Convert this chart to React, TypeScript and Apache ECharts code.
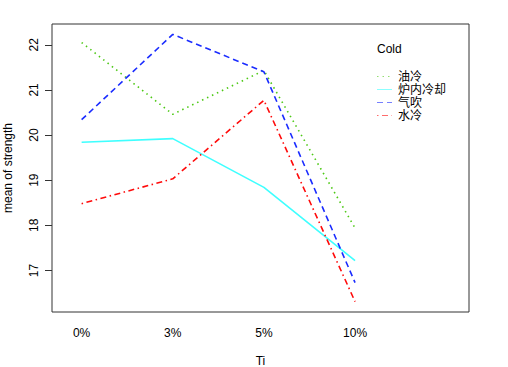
import React, { useEffect, useRef } from "react";
import * as echarts from "echarts";

const categories = ["0%", "3%", "5%", "10%"];
const seriesNames = ["油冷", "炉内冷却", "气吹", "水冷"];
const oilCooling = [22.05, 20.46, 21.43, 17.94];
const furnaceCooling = [19.84, 19.92, 18.84, 17.22];
const airBlow = [20.34, 22.23, 21.4, 16.73];
const waterCooling = [18.48, 19.03, 20.77, 16.31];
const yTicks = [17, 18, 19, 20, 21, 22];

const colors = ["#4CC814", "#3FFFFF", "#1A2CFF", "#FF0A0A"];
const dashes: any[] = [[1.5, 4], "solid", [6, 4], [1.5, 3.5, 6, 3.5]];

export default function App() {
  const ref = useRef<HTMLDivElement>(null);
  useEffect(() => {
    const chart = echarts.init(ref.current!, null, { renderer: "svg" });
    const all = [oilCooling, furnaceCooling, airBlow, waterCooling];
    const font = "Liberation Sans, Arial, sans-serif";
    const cjk = "Liberation Sans, Noto Sans CJK SC, sans-serif";
    const legendRows = [76.5, 89.5, 102.5, 115.5];
    const legendGraphics: any[] = [];
    seriesNames.forEach((n, i) => {
      legendGraphics.push({
        type: "line",
        shape: { x1: 377, y1: legendRows[i], x2: 392, y2: legendRows[i] },
        style: {
          stroke: colors[i],
          lineWidth: 1,
          opacity: 0.6,
          lineDash: dashes[i] === "solid" ? null : dashes[i],
        },
      });
      legendGraphics.push({
        type: "text",
        x: 398,
        y: legendRows[i],
        style: { text: n, fill: "#000", fontSize: 12, fontFamily: cjk, verticalAlign: "middle" },
      });
    });
    chart.setOption({
      animation: false,
      textStyle: { fontFamily: font },
      grid: {
        left: 52,
        right: 39,
        top: 24,
        bottom: 55,
        show: true,
        borderColor: "#333",
        borderWidth: 1,
        containLabel: false,
        outerBoundsMode: "none",
      },
      xAxis: {
        type: "value",
        min: 0.675,
        max: 5.25,
        name: "Ti",
        nameLocation: "middle",
        nameGap: 43,
        nameTextStyle: { color: "#000", fontSize: 12, fontFamily: font },
        axisLine: { show: false },
        axisTick: { show: false },
        splitLine: { show: false },
        axisLabel: {
          customValues: [1, 2, 3, 4],
          formatter: (v: number) => categories[Math.round(v) - 1] ?? "",
          color: "#000",
          fontSize: 12,
          margin: 15,
          fontFamily: font,
        },
      },
      yAxis: {
        type: "value",
        min: 16.08,
        max: 22.46,
        name: "mean of strength",
        nameLocation: "middle",
        nameGap: 38,
        nameRotate: 90,
        nameTextStyle: { color: "#000", fontSize: 12, fontFamily: font },
        axisLine: { show: false },
        splitLine: { show: false },
        axisTick: { show: true, customValues: yTicks, length: 7, lineStyle: { color: "#333" } },
        axisLabel: {
          customValues: yTicks,
          rotate: 90,
          color: "#000",
          fontSize: 12,
          margin: 12,
          fontFamily: font,
        },
      },
      graphic: [
        {
          type: "text",
          x: 377,
          y: 49,
          style: { text: "Cold", fill: "#000", fontSize: 12, fontFamily: font, verticalAlign: "middle" },
        },
        ...legendGraphics,
      ],
      series: seriesNames.map((n, i) => ({
        name: n,
        type: "line",
        symbol: "none",
        data: all[i].map((v, j) => [j + 1, v]),
        lineStyle: { color: colors[i], width: 1.6, type: dashes[i] },
        itemStyle: { color: colors[i] },
      })),
    });
    return () => chart.dispose();
  }, []);
  return (
    <div
      ref={ref}
      style={{ position: "absolute", left: 0, top: 0, width: 508, height: 367, background: "#fff" }}
    />
  );
}
